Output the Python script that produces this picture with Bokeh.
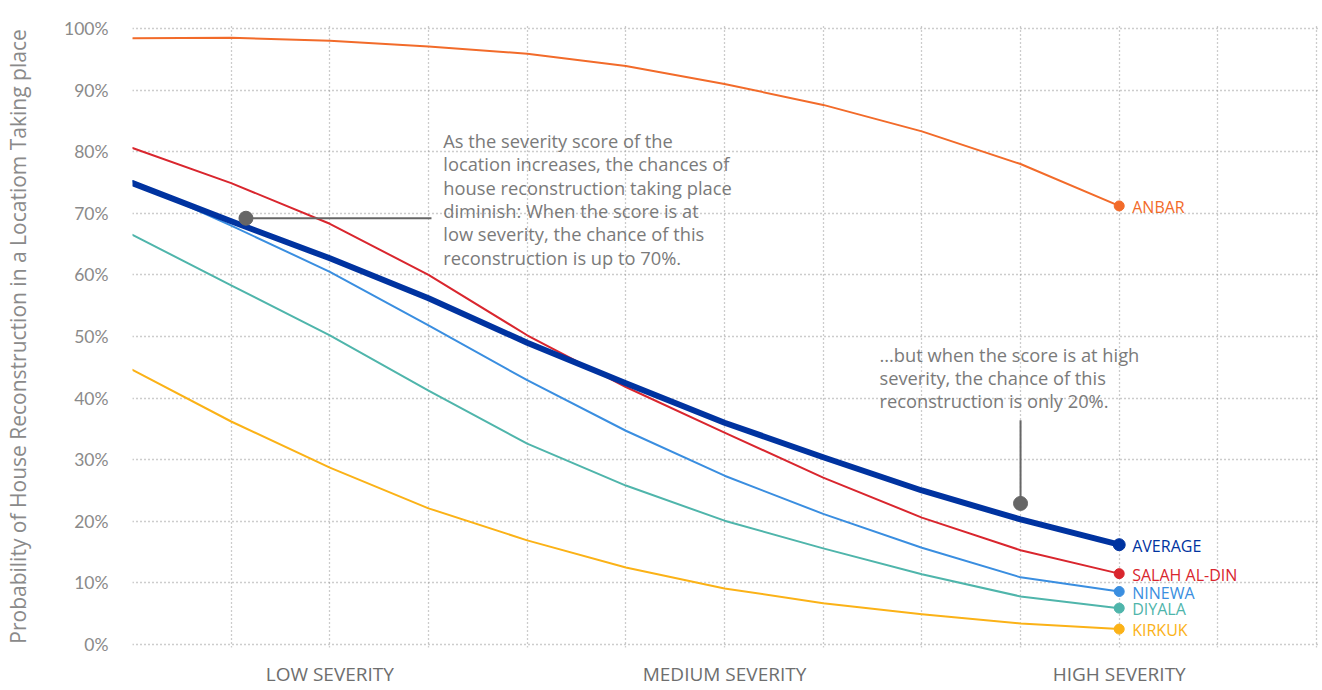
from bokeh.plotting import figure
from bokeh.models import Range1d, FixedTicker, ColumnDataSource
from bokeh.core.properties import value
from bokeh.embed import file_html
from bokeh.resources import INLINE

FONT = "Lato"
FONT2 = "Open Sans"

severity = [0, 1, 2, 3, 4, 5, 6, 7, 8, 9, 10]
anbar = [98.4, 98.5, 98.0, 97.1, 95.9, 93.9, 91.0, 87.6, 83.3, 78.0, 71.2]
salah = [80.6, 74.9, 68.3, 60.0, 50.2, 41.8, 34.4, 27.1, 20.6, 15.3, 11.5]
ninewa = [75.2, 68.0, 60.5, 51.8, 42.9, 34.7, 27.4, 21.2, 15.7, 10.9, 8.6]
diyala = [66.5, 58.3, 50.2, 41.2, 32.6, 25.8, 20.1, 15.6, 11.4, 7.8, 5.9]
kirkuk = [44.6, 36.2, 28.7, 22.1, 16.9, 12.5, 9.1, 6.7, 4.9, 3.4, 2.5]
average = [74.9, 68.7, 62.7, 56.2, 49.0, 42.4, 36.0, 30.4, 25.0, 20.3, 16.2]

series_names = ["ANBAR", "SALAH AL-DIN", "NINEWA", "DIYALA", "KIRKUK", "AVERAGE"]
series_values = [anbar, salah, ninewa, diyala, kirkuk, average]
series_colors = ["#f26b2a", "#d9262e", "#3a8ee0", "#4fb5ab", "#fbb217", "#0033a0"]
series_widths = [2, 2, 2, 2, 2, 6]

category_ticks = [2, 6, 10]
category_labels = ["LOW SEVERITY", "MEDIUM SEVERITY", "HIGH SEVERITY"]
y_ticks = [0, 10, 20, 30, 40, 50, 60, 70, 80, 90, 100]

note1 = ["As the severity score of the",
         "location increases, the chances of",
         "house reconstruction taking place",
         "diminish: When the score is at",
         "low severity, the chance of this",
         "reconstruction is up to 70%."]
note2 = ["...but when the score is at high",
         "severity, the chance of this",
         "reconstruction is only 20%."]

p = figure(width=1322, height=690, output_backend="svg", toolbar_location=None,
           x_range=Range1d(0, 12.04), y_range=Range1d(-0.49, 100.49),
           min_border_left=132, min_border_right=2, min_border_top=25,
           min_border_bottom=43)
p.outline_line_color = None
p.background_fill_color = "white"

# grids
p.xgrid.ticker = FixedTicker(ticks=list(range(13)))
p.ygrid.ticker = FixedTicker(ticks=y_ticks)
for g in (p.xgrid, p.ygrid):
    g.grid_line_color = "#9a9a9a"
    g.grid_line_dash = "1 3"
    g.grid_line_width = 1.3

# axes
p.xaxis.ticker = FixedTicker(ticks=category_ticks)
p.xaxis.major_label_overrides = {t: l for t, l in zip(category_ticks, category_labels)}
p.yaxis.ticker = FixedTicker(ticks=y_ticks)
p.yaxis.major_label_overrides = {t: f"{t}%" for t in y_ticks}
for ax in (p.xaxis, p.yaxis):
    ax.axis_line_color = None
    ax.major_tick_line_color = None
    ax.minor_tick_line_color = None
    ax.major_tick_out = 0
    ax.major_tick_in = 0
p.xaxis.major_label_text_font = FONT2
p.xaxis.major_label_text_font_size = "19px"
p.xaxis.major_label_text_color = "#6e6e6e"
p.xaxis.major_label_standoff = 13
p.yaxis.major_label_text_font = FONT
p.yaxis.major_label_text_font_size = "17.5px"
p.yaxis.major_label_text_color = "#8a8a8a"
p.yaxis.major_label_standoff = 24
p.yaxis.axis_label = "Probability of House Reconstruction in a Locatiom Taking place"
p.yaxis.axis_label_text_font = FONT2
p.yaxis.axis_label_text_font_size = "21px"
p.yaxis.axis_label_text_font_style = "normal"
p.yaxis.axis_label_text_color = "#8a8a8a"
p.yaxis.axis_label_standoff = 29

# series
for name, vals, col, w in zip(series_names, series_values, series_colors, series_widths):
    p.line(severity, vals, line_color=col, line_width=w, line_join="round", line_cap="round")

end_src = ColumnDataSource(dict(
    x=[severity[-1]] * len(series_names),
    y=[v[-1] for v in series_values],
    name=series_names,
    color=series_colors,
    size=[10, 10, 10, 10, 10, 12],
))
p.scatter("x", "y", source=end_src, size="size", fill_color="color", line_color="color")
p.text("x", "y", text="name", source=end_src, text_color="color",
       text_font=value(FONT2), text_font_size="16px", text_baseline="middle",
       text_align="left", x_offset=13, y_offset=1)

# annotation 1
ann_gray = "#666666"
p.line([1.15, 3.03], [69.2, 69.2], line_color=ann_gray, line_width=2)
p.scatter([1.15], [69.2], size=14, fill_color=ann_gray, line_color=ann_gray)
note1_y = [81.8 - 3.78 * i for i in range(len(note1))]
p.text([3.15] * len(note1), note1_y, text=note1, text_color="#7a7a7a",
       text_font=value(FONT2), text_font_size="18.3px", text_baseline="middle",
       text_align="left")

# annotation 2
p.line([9.0, 9.0], [36.4, 22.9], line_color=ann_gray, line_width=2)
p.scatter([9.0], [22.9], size=14, fill_color=ann_gray, line_color=ann_gray)
note2_y = [47.1 - 3.78 * i for i in range(len(note2))]
p.text([7.57] * len(note2), note2_y, text=note2, text_color="#7a7a7a",
       text_font=value(FONT2), text_font_size="18.3px", text_baseline="middle",
       text_align="left")

open("out.html", "w").write(file_html(p, INLINE))
